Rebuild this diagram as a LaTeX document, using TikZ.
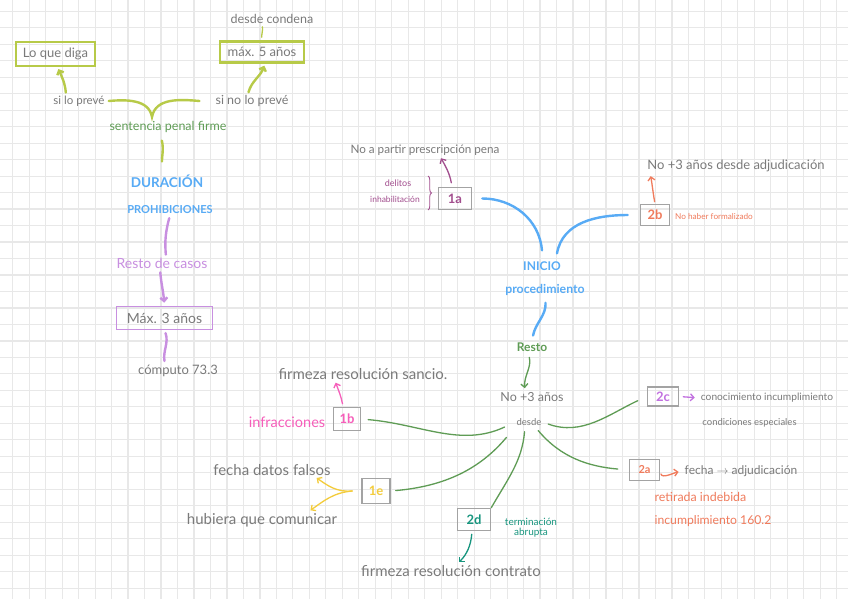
\documentclass[tikz,border=0pt]{standalone}
\usepackage{fontspec}
\setmainfont{Lato}
\usetikzlibrary{arrows.meta}
\usetikzlibrary{decorations.pathreplacing}

\definecolor{cuadro}{HTML}{E8E8E8}
\definecolor{lapiz}{HTML}{7A7A7A}
\definecolor{marco}{HTML}{A3A3A3}
\definecolor{lima}{HTML}{B7CA48}
\definecolor{hoja}{HTML}{5F9C55}
\definecolor{cielo}{HTML}{58ABF5}
\definecolor{lila}{HTML}{C88FE0}
\definecolor{ciruela}{HTML}{A24E8E}
\definecolor{coral}{HTML}{F07B5C}
\definecolor{rosa}{HTML}{F65EBA}
\definecolor{mostaza}{HTML}{F3CC3C}
\definecolor{petroleo}{HTML}{17957E}
\definecolor{violeta}{HTML}{C271E0}

\tikzset{
  >={Straight Barb[length=3.5pt,width=7pt]},
  nota/.style={text=lapiz, inner sep=1pt, font=\fontsize{#1}{#1}\selectfont},
  nota/.default=12,
  titulo/.style={text=cielo, inner sep=1pt, font=\fontsize{#1}{#1}\selectfont\bfseries},
  caja/.style={draw=#1, line width=2.5pt, inner sep=0pt, text=lapiz},
  codigo/.style={draw=marco, line width=1.5pt, minimum width=30pt, minimum height=22pt,
    inner sep=0pt, font=\fontsize{13}{13}\selectfont\bfseries},
  rama/.style={line width=1.3pt, line cap=round},
  gruesa/.style={line width=2.4pt, line cap=round},
}

\begin{document}
\begin{tikzpicture}[x=1pt,y=1pt]
\useasboundingbox (0,0) rectangle (848,-599);
\fill[white] (0,0) rectangle (848,-599);
% cuadricula
\foreach \i in {0,...,50}
  \draw[cuadro, line width=1.2pt] ({12.7+16.48*\i},0) -- ({12.7+16.48*\i},-599);
\foreach \j in {0,...,35}
  \draw[cuadro, line width=1.2pt] (0,{-11.3-16.48*\j}) -- (848,{-11.3-16.48*\j});

% duracion prohibiciones
\node[caja=lima, minimum width=79pt, minimum height=24pt, font=\fontsize{13}{13}\selectfont] (loque) at (55.5,-54) {Lo que diga};
\node[caja=lima, minimum width=84pt, minimum height=21pt, font=\fontsize{13}{13}\selectfont] (max5) at (262,-52) {máx. 5 años};
\node[nota=12.5] (condena) at (272,-19) {desde condena};
\node[nota=11.5] (silo) at (79,-101) {si lo prevé};
\node[nota=12.5] (sino) at (252,-101) {si no lo prevé};
\node[nota=12.5, text=hoja] (sentencia) at (168,-127) {sentencia penal firme};
\coordinate (cuspide) at (152,-117);
\node[titulo=13.5] (duracion) at (167,-181) {DURACIÓN};
\node[titulo=11] (prohib) at (170,-210) {PROHIBICIONES};
\node[nota=14, text=lila] (restocasos) at (162,-263) {Resto de casos};
\node[caja=lila, line width=1.6pt, minimum width=96pt, minimum height=23pt, font=\fontsize{14}{14}\selectfont] (max3) at (164.5,-318) {Máx. 3 años};
\node[nota=13] (computo) at (178,-371) {cómputo 73.3};

\draw[gruesa, lima] ([xshift=3pt]silo.east) to[out=5,in=100] (cuspide) to[out=80,in=175] ([xshift=-15pt]sino.west);
\draw[gruesa, lima, ->, shorten <=2pt, shorten >=2pt] ([xshift=-13pt]silo.north) to[out=95,in=-65] ([xshift=2pt]loque.south);
\draw[gruesa, lima, ->, shorten <=2pt, shorten >=2pt] ([xshift=-4pt]sino.north) to[out=75,in=-110] ([xshift=3pt]max5.south);
\draw[rama, lima, shorten <=2pt, shorten >=3pt] ([xshift=-10pt]condena.south) to[out=-80,in=95] (max5.north);
\draw[gruesa, lima, shorten <=7pt, shorten >=12pt] ([xshift=-8pt]sentencia.south) to[out=-75,in=95] ([xshift=-4pt]duracion.north);
\draw[gruesa, lila, shorten <=3pt, shorten >=2pt] (prohib.south) to[out=-105,in=95] ([xshift=4pt]restocasos.north);
\draw[gruesa, lila, ->, shorten <=3pt, shorten >=3pt] ([xshift=-2pt]restocasos.south) to[out=-85,in=95] (max3.north);
\draw[gruesa, lila, shorten <=3pt, shorten >=3pt] (max3.south) to[out=-70,in=100] ([xshift=-13pt]computo.north);

% inicio procedimiento
\node[nota=11.7] (prescrip) at (425,-150) {No a partir prescripción pena};
\node[nota=9, text=ciruela] (delitos) at (398,-183) {delitos};
\node[nota=8.5, text=ciruela] (inhab) at (395,-199) {inhabilitación};
\node[codigo, minimum width=33pt, text=ciruela] (c1a) at (455,-198.5) {1a};
\node[titulo=12] (inicio) at (542,-266) {INICIO};
\node[titulo=12.3] (proc) at (545,-290) {procedimiento};
\node[codigo, minimum width=29pt, minimum height=21pt, text=coral] (c2b) at (655,-215) {2b};
\node[nota=8.2, text=coral, anchor=west] (formal) at (674,-217) {No haber formalizado};
\node[nota=13] (adjud) at (736,-166) {No +3 años desde adjudicación};
\node[titulo=12, text=hoja] (resto) at (532,-347) {Resto};
\node[nota=12.5] (no3) at (532,-397) {No +3 años};
\node[nota=9.5] (desde) at (529,-422) {desde};

\draw[ciruela, line width=0.9pt, decorate, decoration={brace, amplitude=3.5pt}] (428,-176) -- (428,-210);
\draw[rama, ciruela, ->, shorten <=4pt, shorten >=2pt] ([xshift=-3pt]c1a.north) to[out=100,in=-60] ([xshift=15pt]prescrip.south);
\draw[gruesa, cielo] ([xshift=10pt]c1a.east) to[out=0,in=95] ([yshift=10pt]inicio.north);
\draw[gruesa, cielo] ([xshift=15pt,yshift=7pt]inicio.north) to[out=80,in=180] ([xshift=-12pt]c2b.west);
\draw[rama, coral, ->, shorten <=2pt, shorten >=3pt] (c2b.north) to[out=100,in=-80] ([xshift=4pt]adjud.south west);
\draw[gruesa, cielo, shorten <=6pt, shorten >=6pt] (proc.south) to[out=-85,in=80] (resto.north);
\draw[rama, hoja, ->, shorten <=5pt, shorten >=3pt] ([xshift=-4pt]resto.south) to[out=-75,in=95] ([xshift=-7pt]no3.north);

% casos desde
\node[codigo, minimum width=27pt, minimum height=23pt, text=rosa] (c1b) at (347,-419) {1b};
\node[nota=14.5, text=rosa] (infrac) at (287,-422) {infracciones};
\node[nota=15] (sancio) at (363,-374) {firmeza resolución sancio.};
\node[codigo, minimum width=31pt, minimum height=19pt, text=violeta] (c2c) at (663,-396.5) {2c};
\node[nota=10.2] (conoc) at (767,-398) {conocimiento incumplimiento};
\node[nota=9.5] (especiales) at (749.5,-423) {condiciones especiales};
\node[codigo, minimum width=30pt, minimum height=21pt, text=coral, font=\fontsize{11}{11}\selectfont\bfseries] (c2a) at (644.5,-470) {2a};
\node[nota=12] (fechaadj) at (741,-471) {fecha $\rightarrow$ adjudicación};
\node[nota=12.4, text=coral] (retirada) at (700.5,-497) {retirada indebida};
\node[nota=12.2, text=coral] (incumpl) at (713,-521) {incumplimiento 160.2};
\node[codigo, minimum width=28pt, minimum height=25pt, text=mostaza] (c1e) at (376,-491) {1e};
\node[nota=15] (fechadatos) at (272,-470) {fecha datos falsos};
\node[nota=15] (hubiera) at (262,-520) {hubiera que comunicar};
\node[codigo, minimum width=33pt, text=petroleo] (c2d) at (474,-519.5) {2d};
\node[nota=10, text=petroleo, align=center] (termin) at (531,-528) {terminación\\abrupta};
\node[nota=15] (contrato) at (451,-571) {firmeza resolución contrato};

\draw[rama, rosa, ->, shorten <=3pt, shorten >=2pt] ([xshift=-4pt]c1b.north) to[out=100,in=-70] ([xshift=-28pt]sancio.south);
\draw[rama, hoja, shorten <=7pt, shorten >=12pt] (c1b.east) to[out=-5,in=205] (desde.west);
\draw[rama, hoja, shorten <=6pt, shorten >=10pt] (desde.east) to[out=-20,in=205] (c2c.west);
\draw[rama, hoja, shorten <=5pt, shorten >=11pt] ([xshift=6pt]desde.south) to[out=-50,in=175] (c2a.west);
\draw[rama, hoja, shorten <=5pt] ([xshift=-4pt]desde.south) to[out=-95,in=60] (c2d.north east);
\draw[rama, hoja, shorten <=14pt, shorten >=5pt] (desde.south west) to[out=-130,in=5] (c1e.east);
\draw[rama, violeta, ->, shorten <=4pt, shorten >=5pt] (c2c.east) -- (conoc.west);
\draw[rama, coral, ->, shorten <=4pt, shorten >=5pt] (c2a.east) to[out=-80,in=190] (fechaadj.west);
\draw[rama, mostaza, ->, shorten >=2pt] ([xshift=-9pt]c1e.west) to[out=185,in=-35] ([xshift=43pt]fechadatos.south);
\draw[rama, mostaza, ->, shorten >=3pt] ([xshift=-9pt]c1e.west) to[out=185,in=35] ([xshift=46pt]hubiera.north);
\draw[rama, petroleo, ->, shorten <=3pt, shorten >=3pt] ([xshift=-2pt]c2d.south) to[out=-95,in=45] ([xshift=6pt]contrato.north);
\end{tikzpicture}
\end{document}
